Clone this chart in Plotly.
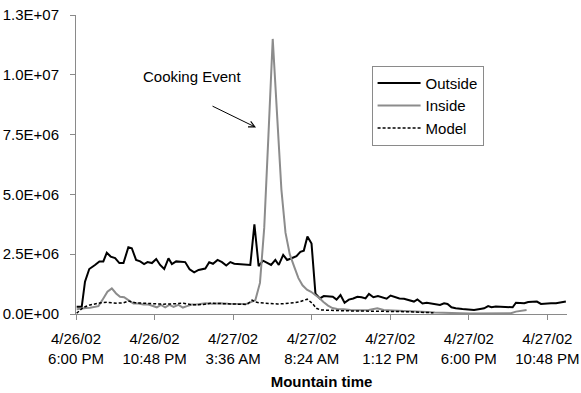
import pandas as pd
import plotly.graph_objects as go

START = pd.Timestamp("2002-04-26 18:00")

# Elapsed hours since 4/26/02 6:00 PM and particle counts for each series
outside_hours = [0.04, 0.35, 0.55, 0.81, 1.16, 1.43, 1.67, 1.88, 2.12, 2.39, 2.65, 2.90,
                 3.20, 3.41, 3.67, 3.92, 4.16, 4.37, 4.64, 4.90, 5.14, 5.39, 5.65, 5.86,
                 6.12, 6.41, 6.67, 6.94, 7.22, 7.49, 7.70, 7.90, 8.14, 8.37, 8.65, 8.92,
                 9.18, 9.43, 9.67, 9.92, 10.16, 10.41, 10.65, 10.90, 11.16, 11.43, 11.68,
                 11.92, 12.18, 12.39, 12.66, 12.90, 13.21, 13.47, 13.71, 13.92, 14.14,
                 14.39, 14.63, 14.90, 15.14, 15.45, 15.69, 15.92, 16.16, 16.41, 16.67,
                 16.94, 17.19, 17.45, 17.69, 17.90, 18.17, 18.45, 18.72, 18.98, 19.22,
                 19.49, 19.76, 20.04, 20.35, 20.65, 20.86, 21.17, 21.43, 21.72, 21.98,
                 22.24, 22.49, 22.70, 22.94, 23.20, 23.61, 24.02, 24.32, 24.69, 24.94,
                 25.18, 25.39, 25.65, 26.06, 26.47, 26.68, 26.88, 27.14, 27.39, 27.63,
                 27.90, 28.16, 28.41, 28.71, 29.02, 29.33, 29.63, 29.93]
outside_values = [0.30e6, 0.30e6, 1.35e6, 1.88e6, 2.05e6, 2.20e6, 2.20e6, 2.56e6, 2.40e6,
                  2.34e6, 2.13e6, 2.13e6, 2.79e6, 2.75e6, 2.26e6, 2.20e6, 2.09e6, 2.17e6,
                  2.13e6, 2.30e6, 2.05e6, 1.88e6, 2.33e6, 2.09e6, 2.20e6, 2.17e6, 2.17e6,
                  1.87e6, 1.74e6, 1.84e6, 1.87e6, 1.90e6, 2.16e6, 2.10e6, 2.26e6, 2.17e6,
                  2.03e6, 2.17e6, 2.10e6, 2.08e6, 2.07e6, 2.06e6, 2.05e6, 3.75e6, 2.00e6,
                  2.23e6, 2.15e6, 2.05e6, 2.26e6, 2.05e6, 2.47e6, 2.26e6, 2.34e6, 2.42e6,
                  2.60e6, 2.65e6, 3.24e6, 2.95e6, 0.85e6, 0.65e6, 0.75e6, 0.75e6, 0.72e6,
                  0.60e6, 0.79e6, 0.47e6, 0.60e6, 0.65e6, 0.72e6, 0.70e6, 0.65e6, 0.84e6,
                  0.70e6, 0.75e6, 0.70e6, 0.64e6, 0.77e6, 0.70e6, 0.65e6, 0.64e6, 0.58e6,
                  0.52e6, 0.61e6, 0.44e6, 0.47e6, 0.44e6, 0.42e6, 0.38e6, 0.45e6, 0.42e6,
                  0.28e6, 0.24e6, 0.21e6, 0.18e6, 0.17e6, 0.21e6, 0.24e6, 0.33e6, 0.28e6,
                  0.31e6, 0.30e6, 0.30e6, 0.28e6, 0.47e6, 0.47e6, 0.45e6, 0.50e6, 0.52e6,
                  0.52e6, 0.42e6, 0.45e6, 0.45e6, 0.45e6, 0.47e6, 0.52e6]

inside_hours = [0.04, 0.35, 0.61, 0.86, 1.12, 1.37, 1.67, 1.92, 2.19, 2.45, 2.69, 2.94,
                3.20, 3.51, 3.81, 4.12, 4.43, 4.70, 4.94, 5.19, 5.45, 5.71, 5.96, 6.26,
                6.53, 6.78, 7.08, 7.39, 7.90, 8.33, 8.82, 9.31, 9.73, 10.16, 10.41, 10.76,
                10.96, 11.24, 11.50, 11.76, 12.02, 12.28, 12.55, 12.80, 13.06, 13.32,
                13.59, 13.84, 14.11, 14.36, 14.63, 14.90, 15.12, 15.40, 15.67, 15.96,
                16.35, 16.78, 17.39, 17.88, 18.41, 18.80, 19.35, 19.84, 20.45, 20.94,
                21.43, 21.92, 22.47, 23.02, 23.51, 24.12, 24.74, 25.35, 25.96, 26.57,
                26.88, 27.18, 27.53]
inside_values = [0.20e6, 0.24e6, 0.25e6, 0.26e6, 0.30e6, 0.33e6, 0.65e6, 0.93e6, 1.07e6,
                 0.86e6, 0.72e6, 0.70e6, 0.58e6, 0.44e6, 0.44e6, 0.40e6, 0.40e6, 0.33e6,
                 0.28e6, 0.38e6, 0.28e6, 0.38e6, 0.30e6, 0.38e6, 0.27e6, 0.33e6, 0.40e6,
                 0.40e6, 0.45e6, 0.43e6, 0.45e6, 0.43e6, 0.43e6, 0.42e6, 0.42e6, 0.52e6,
                 0.58e6, 1.30e6, 3.60e6, 7.50e6, 11.5e6, 8.40e6, 5.20e6, 3.40e6, 2.50e6,
                 2.00e6, 1.50e6, 1.20e6, 1.02e6, 0.93e6, 0.80e6, 0.65e6, 0.50e6, 0.35e6,
                 0.25e6, 0.21e6, 0.20e6, 0.17e6, 0.16e6, 0.17e6, 0.24e6, 0.17e6, 0.15e6,
                 0.14e6, 0.12e6, 0.10e6, 0.08e6, 0.06e6, 0.06e6, 0.04e6, 0.03e6, 0.02e6,
                 0.02e6, 0.03e6, 0.02e6, 0.03e6, 0.10e6, 0.14e6, 0.17e6]

model_hours = [0.04, 0.24, 0.45, 0.86, 1.27, 1.53, 1.88, 2.14, 2.49, 2.90, 3.20, 3.61,
               4.12, 4.53, 4.94, 5.33, 5.76, 6.17, 6.57, 6.98, 7.39, 7.78, 8.20, 8.57,
               9.00, 9.43, 9.92, 10.45, 10.76, 10.96, 11.20, 11.47, 11.88, 12.29, 12.67,
               13.10, 13.41, 13.71, 14.13, 14.43, 14.69, 14.94, 15.35, 15.75, 16.16,
               16.78, 17.39, 18.00, 18.61, 19.22, 19.84, 20.45, 21.06, 21.47, 21.84]
model_values = [0.03e6, 0.15e6, 0.28e6, 0.38e6, 0.45e6, 0.47e6, 0.49e6, 0.48e6, 0.45e6,
                0.47e6, 0.54e6, 0.47e6, 0.45e6, 0.42e6, 0.40e6, 0.41e6, 0.42e6, 0.44e6,
                0.45e6, 0.40e6, 0.38e6, 0.40e6, 0.45e6, 0.44e6, 0.43e6, 0.42e6, 0.41e6,
                0.40e6, 0.58e6, 0.50e6, 0.47e6, 0.45e6, 0.43e6, 0.42e6, 0.43e6, 0.45e6,
                0.48e6, 0.52e6, 0.62e6, 0.45e6, 0.24e6, 0.17e6, 0.15e6, 0.14e6, 0.14e6,
                0.13e6, 0.13e6, 0.12e6, 0.12e6, 0.11e6, 0.10e6, 0.09e6, 0.08e6, 0.07e6,
                0.05e6]

# Axis ticks
x_tick_hours = [0, 4.8, 9.6, 14.4, 19.2, 24.0, 28.8]
x_tick_text = ["4/26/02<br>6:00 PM", "4/26/02<br>10:48 PM", "4/27/02<br>3:36 AM",
               "4/27/02<br>8:24 AM", "4/27/02<br>1:12 PM", "4/27/02<br>6:00 PM",
               "4/27/02<br>10:48 PM"]
y_tick_vals = [0, 2.5e6, 5.0e6, 7.5e6, 1.0e7, 1.25e7]
y_tick_text = ["0.0E+00", "2.5E+06", "5.0E+06", "7.5E+06", "1.0E+07", "1.3E+07"]


def to_time(hours):
    return START + pd.to_timedelta(pd.Series(hours, dtype=float), unit="h")


FONT = "Liberation Sans, Arial, sans-serif"
AXIS_GRAY = "#8a8a8a"

fig = go.Figure()
fig.add_trace(go.Scatter(x=to_time(outside_hours), y=outside_values, name="Outside",
                         mode="lines", line=dict(color="black", width=2)))
fig.add_trace(go.Scatter(x=to_time(inside_hours), y=inside_values, name="Inside",
                         mode="lines", line=dict(color="#8c8c8c", width=2)))
fig.add_trace(go.Scatter(x=to_time(model_hours), y=model_values, name="Model",
                         mode="lines", line=dict(color="black", width=1.5, dash="3px,2px")))

fig.add_annotation(x=START + pd.Timedelta(hours=11.0), y=7.8e6, xref="x", yref="y",
                   ax=-45, ay=-22, text="", showarrow=True, arrowhead=5,
                   arrowsize=1.2, arrowwidth=1, arrowcolor="black")
fig.add_annotation(x=START + pd.Timedelta(hours=7.1), y=9.95e6, xref="x", yref="y",
                   text="Cooking Event", showarrow=False,
                   font=dict(family=FONT, size=15, color="black"))

fig.update_layout(
    width=581, height=393,
    margin=dict(l=76, r=14, t=15, b=79, autoexpand=False),
    paper_bgcolor="white", plot_bgcolor="white",
    font=dict(family=FONT, size=15, color="black"),
    showlegend=True,
    legend=dict(x=0.602, y=0.83, xanchor="left", yanchor="top",
                bgcolor="white", bordercolor=AXIS_GRAY, borderwidth=1,
                font=dict(family=FONT, size=15, color="black"),
                tracegroupgap=0, itemwidth=43),
)
fig.update_xaxes(
    range=[START, START + pd.Timedelta(hours=30)],
    tickvals=to_time(x_tick_hours), ticktext=x_tick_text,
    showgrid=False, zeroline=False, showline=True, linecolor=AXIS_GRAY, linewidth=1,
    ticks="outside", ticklen=5, tickcolor=AXIS_GRAY,
    tickfont=dict(family=FONT, size=15, color="black"),
    ticklabelstandoff=6, automargin=False,
    title=dict(text="<b>Mountain time</b>", font=dict(family=FONT, size=15, color="black"),
               standoff=10),
)
fig.update_yaxes(
    range=[0, 1.25e7],
    tickvals=y_tick_vals, ticktext=y_tick_text,
    showgrid=False, zeroline=False, showline=True, linecolor=AXIS_GRAY, linewidth=1,
    ticks="outside", ticklen=5, tickcolor=AXIS_GRAY,
    tickfont=dict(family=FONT, size=15, color="black"),
    ticklabelstandoff=8, automargin=False,
)

fig.write_html("out.html")
